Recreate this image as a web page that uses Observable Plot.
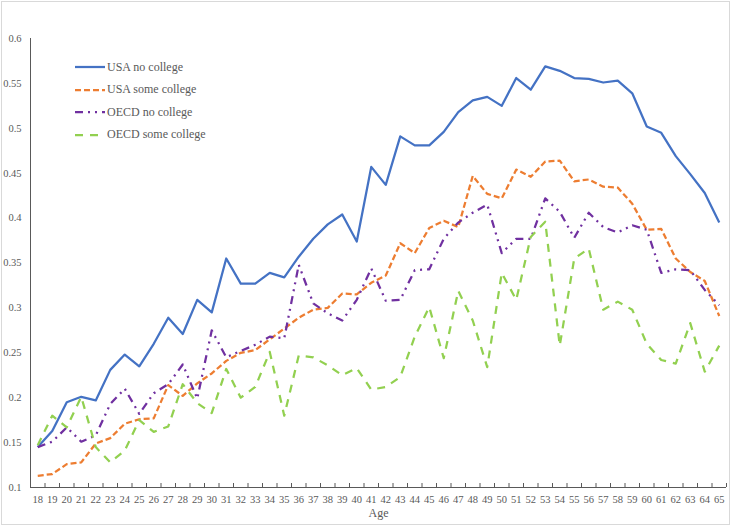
<!DOCTYPE html>
<html><head><meta charset="utf-8">
<script src="https://cdn.jsdelivr.net/npm/d3@7"></script>
<script src="https://cdn.jsdelivr.net/npm/@observablehq/plot@0.6"></script>
<style>
body{margin:0;background:#fff;}
#wrap{position:relative;width:733px;height:529px;font-family:"Liberation Serif","Times New Roman",serif;}
#chart{position:absolute;left:0;top:0;}
#border{position:absolute;left:1px;top:1px;width:727px;height:522px;border:1px solid #d9d9d9;pointer-events:none;}
#legend{position:absolute;left:75px;top:56px;}
.item{display:flex;align-items:center;height:22.5px;font-size:12px;color:#595959;white-space:nowrap;}
.item span{margin-left:2px;}
</style></head><body>
<div id="wrap"><div id="chart"></div><div id="border"></div><div id="legend"></div></div>
<script>
const ages = [18,19,20,21,22,23,24,25,26,27,28,29,30,31,32,33,34,35,36,37,38,39,40,41,42,43,44,45,46,47,48,49,50,51,52,53,54,55,56,57,58,59,60,61,62,63,64,65];
const usaNoCollege = [0.145,0.163,0.195,0.201,0.197,0.231,0.248,0.235,0.260,0.289,0.271,0.309,0.295,0.355,0.327,0.327,0.339,0.334,0.357,0.377,0.393,0.404,0.374,0.457,0.437,0.491,0.481,0.481,0.496,0.518,0.531,0.535,0.525,0.556,0.543,0.569,0.564,0.556,0.555,0.551,0.553,0.539,0.502,0.495,0.469,0.449,0.428,0.395];
const usaSomeCollege = [0.113,0.115,0.126,0.128,0.149,0.155,0.171,0.176,0.177,0.214,0.202,0.216,0.227,0.241,0.250,0.253,0.265,0.277,0.289,0.298,0.300,0.316,0.315,0.328,0.336,0.372,0.361,0.389,0.397,0.390,0.447,0.427,0.422,0.454,0.446,0.463,0.464,0.441,0.443,0.435,0.434,0.416,0.387,0.388,0.355,0.340,0.330,0.291];
const oecdNoCollege = [0.145,0.151,0.167,0.151,0.158,0.193,0.210,0.182,0.205,0.215,0.237,0.199,0.275,0.245,0.252,0.259,0.268,0.266,0.348,0.305,0.294,0.286,0.309,0.344,0.308,0.309,0.342,0.343,0.377,0.395,0.406,0.415,0.361,0.377,0.377,0.422,0.407,0.378,0.406,0.390,0.384,0.392,0.387,0.339,0.343,0.342,0.320,0.303];
const oecdSomeCollege = [0.147,0.180,0.167,0.201,0.145,0.128,0.141,0.175,0.162,0.168,0.215,0.194,0.183,0.232,0.200,0.212,0.251,0.180,0.247,0.245,0.236,0.225,0.233,0.209,0.212,0.223,0.268,0.301,0.244,0.319,0.286,0.234,0.339,0.309,0.379,0.396,0.258,0.355,0.366,0.298,0.307,0.298,0.260,0.242,0.238,0.283,0.229,0.258];
const seriesNames = ["USA no college","USA some college","OECD no college","OECD some college"];
const seriesColors = ["#4472C4","#ED7D31","#7030A0","#92D050"];
const seriesDashes = [null,"6,3","8,5,2,5,2,5","8,7"];
const yTicks = [0.1,0.15,0.2,0.25,0.3,0.35,0.4,0.45,0.5,0.55,0.6];
const xLabel = "Age";

const seriesValues = [usaNoCollege, usaSomeCollege, oecdNoCollege, oecdSomeCollege];
const boundaries = [ages[0]-0.5, ...ages.map(a => a + 0.5)];

const lineMarks = seriesNames.map((name, k) =>
  Plot.line(ages.map((a, i) => ({age: a, value: seriesValues[k][i], series: name})), {
    x: "age", y: "value", stroke: seriesColors[k], strokeWidth: 2.25,
    strokeDasharray: seriesDashes[k] || undefined, strokeLinejoin: "round", strokeLinecap: "butt"
  })
);

const chart = Plot.plot({
  width: 733, height: 529,
  marginLeft: 30, marginRight: 7, marginTop: 38, marginBottom: 42,
  style: {fontFamily: "'Liberation Serif','Times New Roman',serif", fontSize: "10.5px", color: "#595959", background: "transparent"},
  x: {type: "linear", domain: [ages[0]-0.5, ages[ages.length-1]+0.5]},
  y: {domain: [yTicks[0], yTicks[yTicks.length-1]]},
  marks: [
    Plot.axisX(ages, {tickSize: 0, tickPadding: 8, tickFormat: d => String(d), label: null}),
    Plot.axisX(boundaries, {tickSize: 4, dy: -4, tickFormat: () => "", label: null, stroke: "#595959"}),
    Plot.axisY(yTicks, {tickSize: 0, tickPadding: 9, tickFormat: d => String(+d.toFixed(2)), label: null}),
    Plot.ruleY([yTicks[0]], {stroke: "#595959"}),
    Plot.ruleX([ages[0]-0.5], {stroke: "#595959"}),
    ...lineMarks,
    Plot.text([xLabel], {frameAnchor: "bottom", dy: 29, fontSize: 12, fill: "#595959"})
  ]
});
document.getElementById("chart").appendChild(chart);

const legend = document.getElementById("legend");
seriesNames.forEach((name, k) => {
  const item = document.createElement("div");
  item.className = "item";
  const dash = seriesDashes[k] ? `stroke-dasharray="${seriesDashes[k]}"` : "";
  item.innerHTML = `<svg width="30" height="6"><line x1="0" y1="3" x2="30" y2="3" stroke="${seriesColors[k]}" stroke-width="2.25" ${dash}/></svg><span>${name}</span>`;
  legend.appendChild(item);
});
</script>
</body></html>
